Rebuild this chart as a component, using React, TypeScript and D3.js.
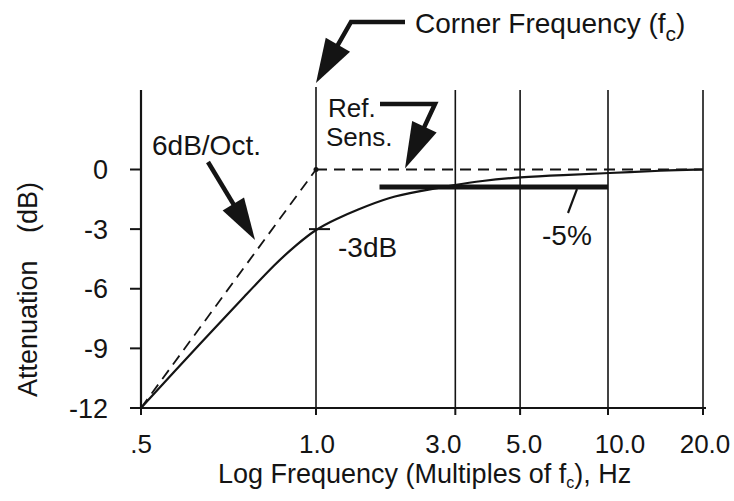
import React, { useEffect, useRef } from "react";
import * as d3 from "d3";

// frequency axis (multiples of fc) and attenuation axis (dB)
const freqTicks = [0.5, 1, 3, 5, 10, 20];
const freqLabels = [".5", "1.0", "3.0", "5.0", "10.0", "20.0"];
const dbTicks = [0, -3, -6, -9, -12];

const responseFreq = [0.5, 0.572, 0.657, 0.755, 0.85, 0.927, 1, 1.17, 1.38, 1.79, 2.22, 3, 3.64, 5, 7, 10, 14.9, 20];
const responseDb = [-12, -10.14, -8.23, -6.36, -4.75, -3.77, -3, -2.49, -2.03, -1.38, -1.11, -0.78, -0.58, -0.38, -0.28, -0.18, -0.05, 0];

// 6dB/Oct asymptote and reference sensitivity
const asymptoteFreq = [0.5, 1];
const asymptoteDb = [-12, 0];
const refFreq = [1, 20];
const refDb = [0, 0];

// -5% band
const bandFreq = [1.65, 10];
const bandDb = -0.88;

const FONT = "'Liberation Sans', Arial, Helvetica, sans-serif";
const INK = "#141414";

export default function App() {
  const ref = useRef<SVGSVGElement | null>(null);

  useEffect(() => {
    const svg = d3.select(ref.current);
    svg.selectAll("*").remove();

    const left = 141;
    // the printed scale is stretched below fc, roughly log above it
    const x = d3
      .scaleLog()
      .domain([0.5, 1, 10, 20])
      .range([left, left + 175, left + 467, left + 562]);
    const y = d3.scaleLinear().domain([-12, 4]).range([408, 90]);

    const g = svg.append("g");

    // vertical grid lines
    g.selectAll(".grid")
      .data(freqTicks.slice(1))
      .enter()
      .append("line")
      .attr("x1", (d) => x(d))
      .attr("x2", (d) => x(d))
      .attr("y1", (d) => (d === 1 ? 87 : y(4)))
      .attr("y2", y(-12))
      .attr("stroke", INK)
      .attr("stroke-width", 1.6);

    // y axis
    g.append("line")
      .attr("x1", left)
      .attr("x2", left)
      .attr("y1", y(4))
      .attr("y2", y(-12))
      .attr("stroke", INK)
      .attr("stroke-width", 2.2);
    g.selectAll(".ytick")
      .data(dbTicks)
      .enter()
      .append("line")
      .attr("x1", left - 11)
      .attr("x2", left)
      .attr("y1", (d) => y(d))
      .attr("y2", (d) => y(d))
      .attr("stroke", INK)
      .attr("stroke-width", 2);
    g.selectAll(".ylabel")
      .data(dbTicks)
      .enter()
      .append("text")
      .attr("x", 108)
      .attr("y", (d) => y(d))
      .attr("dy", "0.36em")
      .attr("text-anchor", "end")
      .attr("font-family", FONT)
      .attr("font-size", 27)
      .attr("fill", INK)
      .text((d) => String(d));

    // x axis
    g.append("line")
      .attr("x1", left - 10)
      .attr("x2", x(20) + 3)
      .attr("y1", y(-12))
      .attr("y2", y(-12))
      .attr("stroke", INK)
      .attr("stroke-width", 2.2);
    g.selectAll(".xtick")
      .data(freqTicks)
      .enter()
      .append("line")
      .attr("x1", (d) => x(d))
      .attr("x2", (d) => x(d))
      .attr("y1", y(-12))
      .attr("y2", y(-12) + 7)
      .attr("stroke", INK)
      .attr("stroke-width", 2);
    const labelNudge = [0, 1, -12, 4, 12, 2];
    g.selectAll(".xlabel")
      .data(freqTicks)
      .enter()
      .append("text")
      .attr("x", (d, i) => x(d) + labelNudge[i])
      .attr("y", 453)
      .attr("text-anchor", "middle")
      .attr("font-family", FONT)
      .attr("font-size", 26)
      .attr("fill", INK)
      .text((d, i) => freqLabels[i]);

    // axis titles
    const xt = g
      .append("text")
      .attr("x", 218)
      .attr("y", 483)
      .attr("font-family", FONT)
      .attr("font-size", 27)
      .attr("fill", INK);
    xt.append("tspan").text("Log Frequency (Multiples of f");
    xt.append("tspan").attr("font-size", 16).attr("dy", 5).text("c");
    xt.append("tspan").attr("dy", -5).text("), Hz");

    const yt = g
      .append("g")
      .attr("transform", "translate(37,0) rotate(-90)")
      .attr("font-family", FONT)
      .attr("font-size", 27)
      .attr("fill", INK);
    yt.append("text").attr("x", -397).attr("y", 0).text("Attenuation");
    yt.append("text").attr("x", -233).attr("y", 0).text("(dB)");

    // dashed reference lines
    const line = d3
      .line<number[]>()
      .x((d) => x(d[0]))
      .y((d) => y(d[1]));
    const dashed = (fs: number[], ds: number[]) =>
      g
        .append("path")
        .attr("d", line(fs.map((f, i) => [f, ds[i]])))
        .attr("fill", "none")
        .attr("stroke", INK)
        .attr("stroke-width", 1.8)
        .attr("stroke-dasharray", "11 7");
    dashed(asymptoteFreq, asymptoteDb);
    dashed(refFreq, refDb);

    // -5% band
    g.append("line")
      .attr("x1", x(bandFreq[0]))
      .attr("x2", x(bandFreq[1]))
      .attr("y1", y(bandDb))
      .attr("y2", y(bandDb))
      .attr("stroke", INK)
      .attr("stroke-width", 5);

    // response curve
    const curve = d3
      .line<number[]>()
      .x((d) => x(d[0]))
      .y((d) => y(d[1]))
      .curve(d3.curveBasis);
    g.append("path")
      .attr("d", curve(responseFreq.map((f, i) => [f, responseDb[i]])))
      .attr("fill", "none")
      .attr("stroke", INK)
      .attr("stroke-width", 2.2);

    // little marks on the fc line
    g.append("line")
      .attr("x1", x(1) - 7)
      .attr("x2", x(1) + 14)
      .attr("y1", y(-3))
      .attr("y2", y(-3))
      .attr("stroke", INK)
      .attr("stroke-width", 2);
    g.append("circle").attr("cx", x(1)).attr("cy", y(0)).attr("r", 2.5).attr("fill", INK);

    // arrows: polyline shaft + filled head at the last point
    const arrow = (pts: number[][], headLen: number, headW: number) => {
      const [tx, ty] = pts[pts.length - 1];
      const [px, py] = pts[pts.length - 2];
      const len = Math.hypot(tx - px, ty - py);
      const ux = (tx - px) / len;
      const uy = (ty - py) / len;
      const bx = tx - ux * headLen;
      const by = ty - uy * headLen;
      const shaft = pts.slice(0, -1).concat([[bx + ux * 4, by + uy * 4]]);
      g.append("path")
        .attr("d", d3.line()(shaft as any))
        .attr("fill", "none")
        .attr("stroke", INK)
        .attr("stroke-width", 4.5)
        .attr("stroke-linejoin", "miter");
      g.append("polygon")
        .attr(
          "points",
          [
            [tx, ty],
            [bx - uy * (headW / 2), by + ux * (headW / 2)],
            [bx + uy * (headW / 2), by - ux * (headW / 2)],
          ]
            .map((p) => p.join(","))
            .join(" ")
        )
        .attr("fill", INK);
    };
    arrow([[405, 22], [351, 22], [x(1), 83]], 44, 28);
    arrow([[380, 104], [435, 104], [405, y(0) - 1]], 46, 27);
    arrow([[208, 162], [255, 240]], 42, 25);

    // -5% leader
    g.append("line")
      .attr("x1", 577)
      .attr("y1", y(bandDb) + 2)
      .attr("x2", 568)
      .attr("y2", 213)
      .attr("stroke", INK)
      .attr("stroke-width", 2.2);

    // annotation texts
    const note = (tx: number, ty: number, s: string, size = 28) =>
      g
        .append("text")
        .attr("x", tx)
        .attr("y", ty)
        .attr("font-family", FONT)
        .attr("font-size", size)
        .attr("fill", INK)
        .text(s);
    const cf = note(415, 33, "Corner Frequency (f");
    cf.append("tspan").attr("font-size", 21).attr("dy", 8).text("c");
    cf.append("tspan").attr("dy", -8).text(")");
    note(152, 155, "6dB/Oct.");
    note(328, 117, "Ref.", 26);
    note(326, 146, "Sens.", 26);
    note(338, 257, "-3dB");
    note(542, 245, "-5%");
  }, []);

  return (
    <svg
      ref={ref}
      width={734}
      height={501}
      style={{ position: "absolute", left: 0, top: 0, background: "#fff" }}
    />
  );
}
